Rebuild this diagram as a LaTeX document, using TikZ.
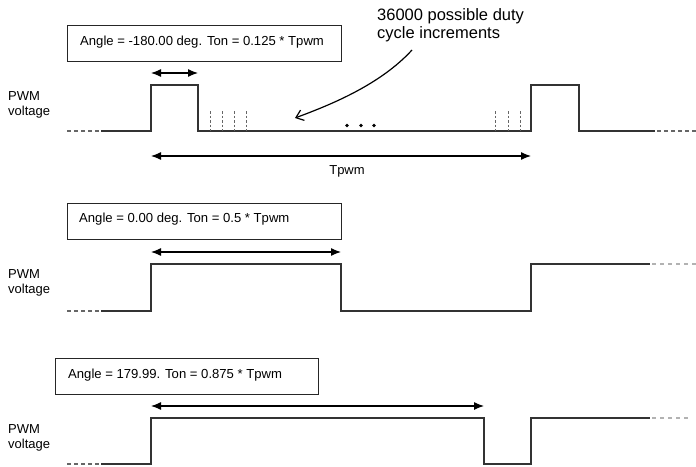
\documentclass[tikz,border=0pt]{standalone}
\usepackage{fontspec}
\setmainfont{Liberation Sans}
\usetikzlibrary{arrows.meta}
\begin{document}
\begin{tikzpicture}[x=1pt,y=-1pt,
  wave/.style={line width=1.1pt,draw=black!80},
  dashend/.style={line width=1.1pt,draw=black!60,dash pattern=on 4pt off 3pt},
  dashendlight/.style={line width=1.1pt,draw=black!30,dash pattern=on 4pt off 4pt},
  tick/.style={line width=0.6pt,draw=black!60,dash pattern=on 2.5pt off 2pt},
  infobox/.style={draw=black!85,line width=0.9pt,inner sep=0pt},
  boxtext/.style={font=\fontsize{13.1}{15}\selectfont,anchor=west,inner sep=0pt},
  lbl/.style={font=\fontsize{13}{15}\selectfont,align=left,anchor=north west,inner sep=0pt},
  dim/.style={line width=1.2pt,{Latex[length=10pt,width=8pt]}-{Latex[length=10pt,width=8pt]}}
]
\useasboundingbox (0,0) rectangle (696,466);

% ---------- Top panel ----------
\draw[infobox] (67,25) rectangle (341,61);
\node[boxtext] (t1) at (80,42) {Angle = -180.00 deg. Ton = 0.125 * Tpwm};
\coordinate (a1l) at (151,73);
\coordinate (a1r) at (198,73);
\draw[dim] (a1l) -- (a1r);
\node[lbl] (p1) at (8,91) {PWM\\voltage};
\draw[dashend] (67,131) -- (101,131);
\draw[wave] (101,131) -- (151,131) -- (151,85) -- (198,85) -- (198,131)
  -- (531,131) -- (531,85) -- (579,85) -- (579,131) -- (655,131);
\draw[dashend] (657,131) -- (696,131);
\foreach \x in {210,222,234,246,495,508,520} \draw[tick] (\x,111) -- (\x,131);
\foreach \x in {347,361,374} \fill[black] (\x,125.5) circle (1.8pt);
\coordinate (tl) at (151,156);
\coordinate (tr) at (531,156);
\draw[dim] (tl) -- (tr);
\node[font=\fontsize{13}{15}\selectfont,inner sep=0pt] (tp) at (347,171) {Tpwm};
\node[font=\fontsize{16.5}{18}\selectfont,align=left,anchor=north west,inner sep=0pt] (note) at (377,8)
  {36000 possible duty\\cycle increments};
\coordinate (cs) at (412,50);
\coordinate (ce) at (295,118);
\draw[line width=1.2pt,-{Straight Barb[length=7pt,width=11pt]}] (cs) .. controls (380,85) and (330,105) .. (ce);

% ---------- Middle panel ----------
\draw[infobox] (67,203) rectangle (341,239);
\node[boxtext] (t2) at (79,219) {Angle = 0.00 deg. Ton = 0.5 * Tpwm};
\coordinate (a2l) at (151,252);
\coordinate (a2r) at (341,252);
\draw[dim] (a2l) -- (a2r);
\node[lbl] (p2) at (8,269) {PWM\\voltage};
\draw[dashend] (67,311) -- (101,311);
\draw[wave] (101,311) -- (151,311) -- (151,264) -- (341,264) -- (341,311)
  -- (531,311) -- (531,264) -- (650,264);
\draw[dashendlight] (652,264) -- (696,264);

% ---------- Bottom panel ----------
\draw[infobox] (55,358) rectangle (318,394);
\node[boxtext] (t3) at (68,375) {Angle = 179.99. Ton = 0.875 * Tpwm};
\coordinate (a3l) at (151,406);
\coordinate (a3r) at (484,406);
\draw[dim] (a3l) -- (a3r);
\node[lbl] (p3) at (8,424) {PWM\\voltage};
\draw[dashend] (67,464) -- (101,464);
\draw[wave] (101,464) -- (151,464) -- (151,418) -- (484,418) -- (484,464)
  -- (531,464) -- (531,418) -- (650,418);
\draw[dashendlight] (652,418) -- (690,418);
\end{tikzpicture}
\end{document}
